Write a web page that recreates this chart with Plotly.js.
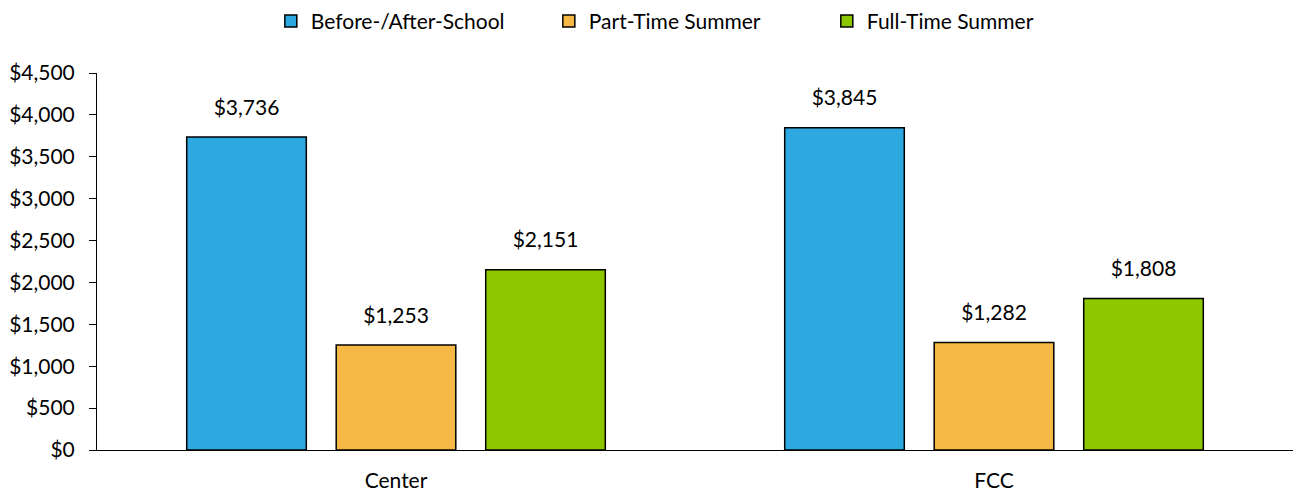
<!DOCTYPE html>
<html><head><meta charset="utf-8">
<script src="https://cdn.plot.ly/plotly-3.0.1.min.js"></script>
<style>html,body{margin:0;padding:0;background:#fff}</style>
</head><body>
<div id="chart" style="width:1294px;height:495px"></div>
<script>
const categories = ["Center", "FCC"];
const seriesNames = ["Before-/After-School", "Part-Time Summer", "Full-Time Summer"];
const beforeAfter = [3736, 3845];
const partTime = [1253, 1282];
const fullTime = [2151, 1808];
const colors = ["#2EA8E1", "#F7B946", "#8DC700"];
const tickVals = [0, 500, 1000, 1500, 2000, 2500, 3000, 3500, 4000, 4500];

const allVals = [beforeAfter, partTime, fullTime];
const fontFam = "Lato, 'Open Sans', sans-serif";
const fs = 21;
const fmt = v => '$' + v.toLocaleString('en-US');
const bars = allVals.map((vals, i) => ({
  type: 'bar',
  name: seriesNames[i],
  x: categories,
  y: vals,
  offsetgroup: 'g' + i,
  marker: {color: colors[i], line: {color: '#000', width: 1.5}},
  hoverinfo: 'none'
}));
const labels = allVals.map((vals, i) => ({
  type: 'scatter',
  mode: 'markers+text',
  showlegend: false,
  x: categories,
  y: vals,
  offsetgroup: 'g' + i,
  marker: {size: 26, color: 'rgba(0,0,0,0)'},
  text: vals.map(fmt),
  textposition: 'top center',
  cliponaxis: false,
  textfont: {size: fs, color: '#000', family: fontFam},
  hoverinfo: 'none'
}));

const layout = {
  width: 1294, height: 495,
  margin: {l: 97, r: 1, t: 70, b: 45},
  barmode: 'group',
  scattermode: 'group',
  bargap: 0.25,
  bargroupgap: 0.2,
  scattergap: 0.25,
  font: {family: fontFam, size: fs, color: '#000'},
  showlegend: true,
  legend: {orientation: 'h', x: 0.494, xanchor: 'center', y: 1.137, yanchor: 'middle', font: {size: fs}, traceorder: 'normal', itemwidth: 30, entrywidth: 233},
  xaxis: {showline: true, linecolor: '#000', linewidth: 1, ticks: '', showgrid: false, tickfont: {size: fs}, ticklabelstandoff: 12},
  yaxis: {range: [0, 4500], tickvals: tickVals, ticktext: tickVals.map(fmt),
    showline: true, linecolor: '#000', linewidth: 1, ticks: 'outside', ticklen: 7, tickcolor: '#000',
    showgrid: false, zeroline: false, tickfont: {size: fs}, ticklabelstandoff: 10},
  plot_bgcolor: '#fff', paper_bgcolor: '#fff'
};
Plotly.newPlot('chart', bars.concat(labels), layout, {staticPlot: true});
</script>
</body></html>
